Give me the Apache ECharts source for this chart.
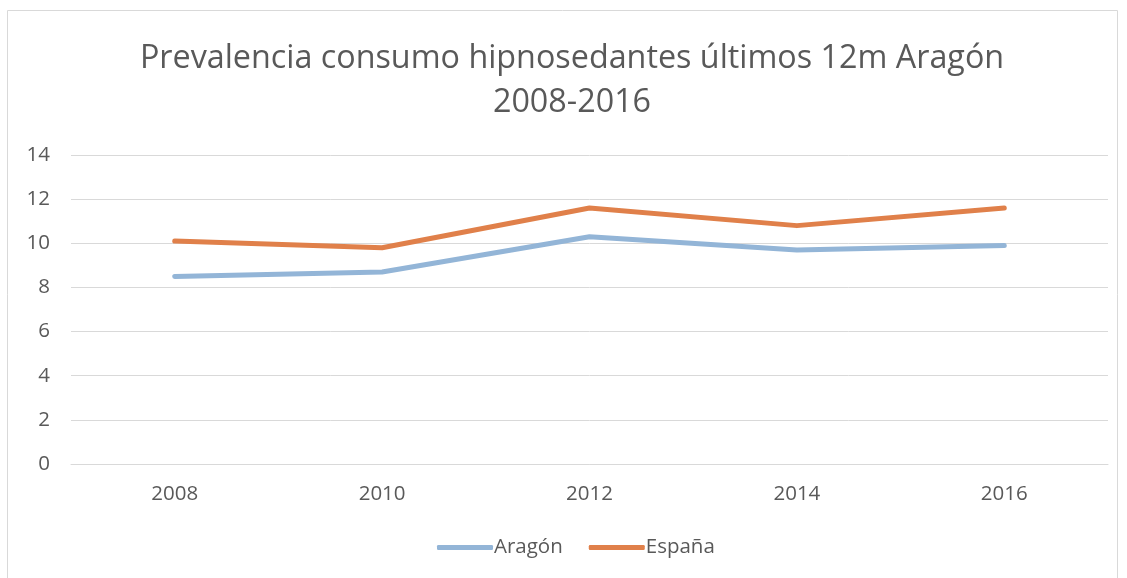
<!DOCTYPE html>
<html>
<head>
<meta charset="utf-8">
<script src="https://cdn.jsdelivr.net/npm/echarts@6/dist/echarts.min.js"></script>
<style>
	html, body { margin: 0; padding: 0; background: #fff; }
	#chart { width: 1127px; height: 578px; }
</style>
</head>
<body>
<div id="chart"></div>
<script>
var years = ['2008', '2010', '2012', '2014', '2016'];
var aragon = [8.5, 8.7, 10.3, 9.7, 9.9];
var espana = [10.1, 9.8, 11.6, 10.8, 11.6];
var yTicks = [0, 14, 2];

var chart = echarts.init(document.getElementById('chart'));
chart.setOption({
	animation: false,
	color: ['#93B5D7', '#E0804A'],
	title: {
		text: 'Prevalencia consumo hipnosedantes últimos 12m Aragón\n2008-2016',
		left: 567,
		textAlign: 'center',
		top: 32,
		textStyle: {
			color: '#595959',
			fontSize: 32.3,
			fontWeight: 'normal',
			fontFamily: 'Open Sans',
			lineHeight: 44
		}
	},
	graphic: [{
		type: 'rect',
		shape: { x: 7.5, y: 10.5, width: 1110, height: 580 },
		style: { fill: 'none', stroke: '#D9D9D9', lineWidth: 1 }
	}],
	legend: {
		bottom: 15,
		left: 432,
		itemWidth: 56,
		itemHeight: 5,
		itemGap: 26,
		icon: 'roundRect',
		textStyle: { color: '#595959', fontSize: 20.5, fontFamily: 'Open Sans', padding: [0, 0, 0, -4] },
		data: ['Aragón', 'España']
	},
	grid: {
		left: 71,
		right: 19,
		top: 155,
		bottom: 114
	},
	xAxis: {
		type: 'category',
		data: years,
		axisLine: { lineStyle: { color: '#D9D9D9', width: 1 } },
		axisTick: { show: false },
		axisLabel: { color: '#595959', fontSize: 20.5, fontFamily: 'Open Sans', margin: 20 }
	},
	yAxis: {
		type: 'value',
		min: yTicks[0],
		max: yTicks[1],
		interval: yTicks[2],
		axisLine: { show: false },
		axisTick: { show: false },
		splitLine: { lineStyle: { color: '#D9D9D9', width: 1 } },
		axisLabel: { color: '#595959', fontSize: 20.5, fontFamily: 'Open Sans', margin: 21 }
	},
	series: [{
		name: 'Aragón',
		type: 'line',
		data: aragon,
		symbol: 'none',
		lineStyle: { width: 5, cap: 'round', join: 'round' }
	}, {
		name: 'España',
		type: 'line',
		data: espana,
		symbol: 'none',
		lineStyle: { width: 5, cap: 'round', join: 'round' }
	}]
});
</script>
</body>
</html>
